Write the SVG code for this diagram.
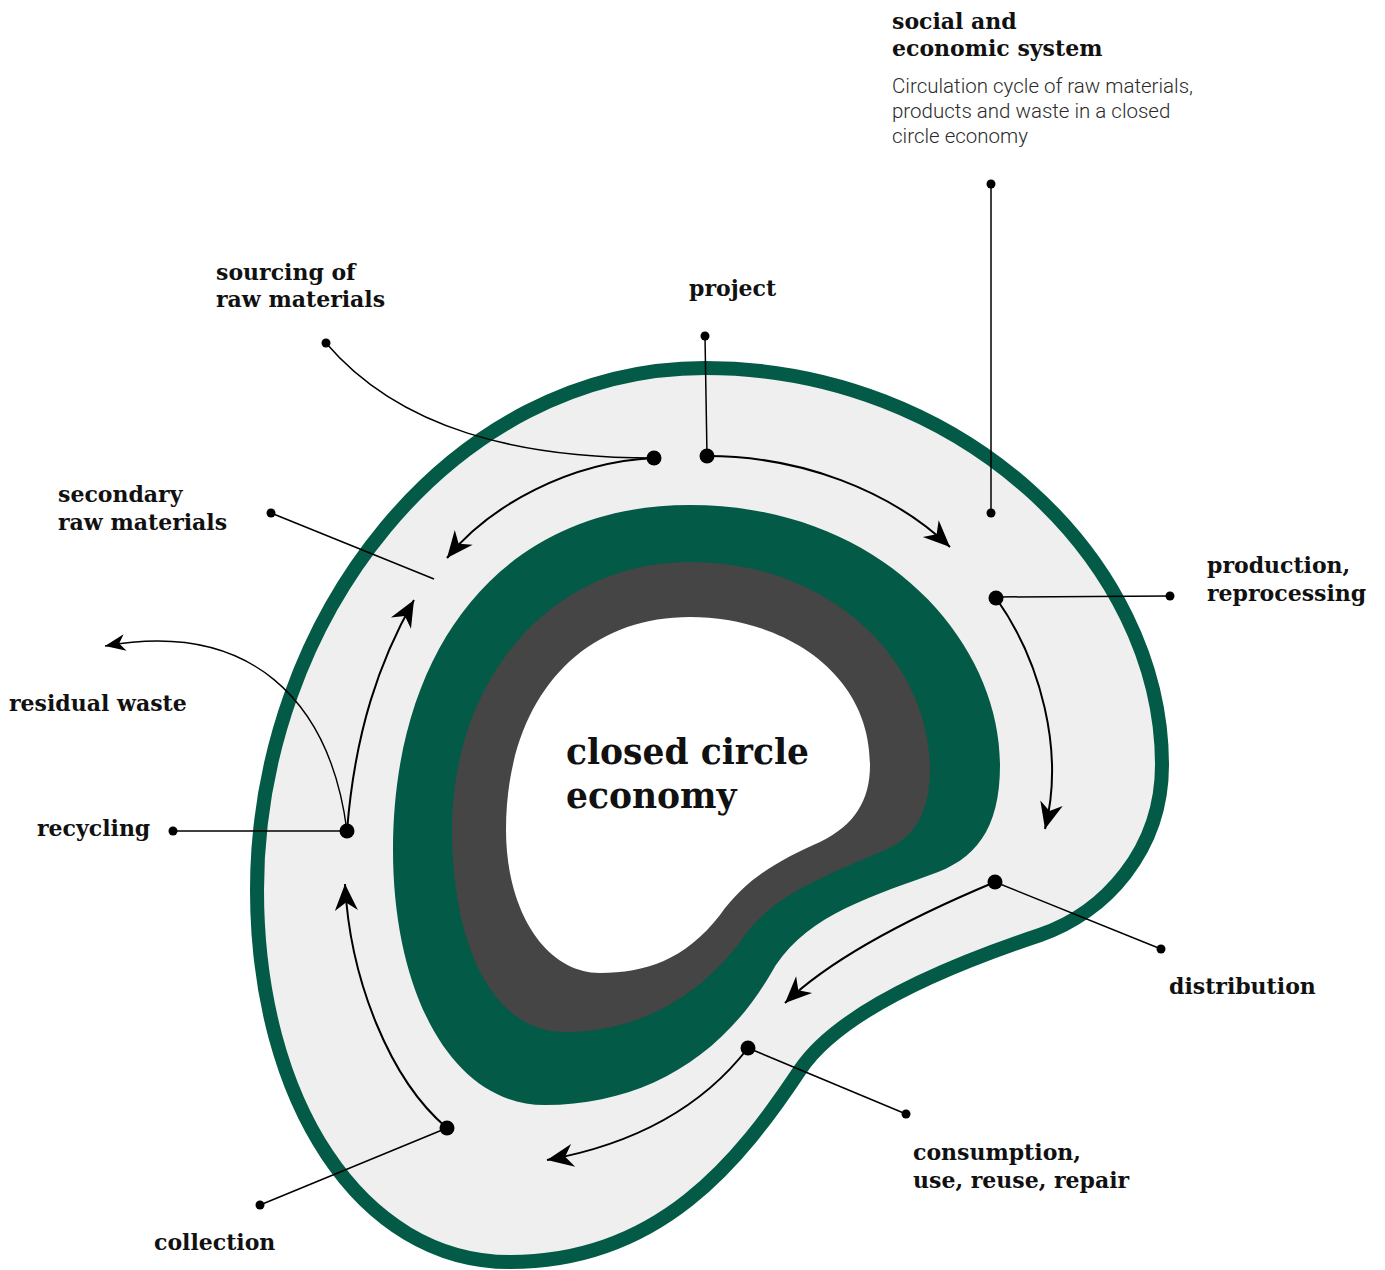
<svg xmlns="http://www.w3.org/2000/svg" width="1385" height="1270" viewBox="0 0 1385 1270">
  <style>
    .lbl { font-family: "DejaVu Serif", "Liberation Serif", serif; font-weight: bold; font-size: 22px; fill: #111; }
    .title { font-family: "DejaVu Serif", "Liberation Serif", serif; font-weight: bold; font-size: 34.5px; fill: #111; }
    .desc { font-family: Roboto, "Liberation Sans", sans-serif; font-weight: 300; font-size: 20.5px; fill: #2b2b2b; }
    .lead { fill: none; stroke: #000; stroke-width: 1.5; }
    .flow { fill: none; stroke: #000; stroke-width: 2; marker-end: url(#head); }
    .flow-thin { fill: none; stroke: #000; stroke-width: 1.4; marker-end: url(#headSmall); }
    .big { fill: #000; }
    .small { fill: #000; }
  </style>
  <defs>
    <marker id="head" markerUnits="userSpaceOnUse" markerWidth="30" markerHeight="30" viewBox="-24 -12 26 24" refX="0" refY="0" orient="auto">
      <path d="M0,0 L-23,-10 L-16,0 L-23,10 Z" fill="#000"/>
    </marker>
    <marker id="headSmall" markerUnits="userSpaceOnUse" markerWidth="24" markerHeight="24" viewBox="-18 -9 20 18" refX="0" refY="0" orient="auto">
      <path d="M0,0 L-17,-7 L-12,0 L-17,7 Z" fill="#000"/>
    </marker>
  </defs>

  <!-- nested rings of the economy -->
  <g id="ring-system">
    <path d="M705,368 C960,368 1162,560 1162,765 C1162,850 1105,913 1040,935 C950,965 840,1010 800,1070 C740,1160 660,1262 510,1262 C360,1262 257,1100 257,890 C257,620 450,368 705,368 Z" fill="#efefef" stroke="#025a47" stroke-width="14"/>
  </g>
  <g id="ring-green">
    <path d="M690,505 C880,505 1000,640 1000,765 C1000,830 975,860 930,875 C860,900 800,920 770,975 C720,1060 640,1105 545,1105 C450,1105 393,990 393,850 C393,650 500,505 690,505 Z" fill="#025a47"/>
  </g>
  <g id="ring-grey">
    <path d="M690,562 C830,562 930,660 930,770 C930,810 915,838 885,850 C820,878 775,895 745,935 C710,985 650,1032 565,1032 C490,1032 452,940 452,830 C452,680 550,562 690,562 Z" fill="#464545"/>
  </g>
  <g id="core">
    <path d="M690,617 C780,617 870,670 870,765 C870,800 855,825 820,842 C775,862 745,880 720,915 C685,960 645,973 600,973 C545,973 506,910 506,830 C506,700 580,617 690,617 Z" fill="#fff"/>
    <text class="title" x="566" y="764">closed circle</text>
    <text class="title" x="566" y="808">economy</text>
  </g>

  <!-- connectors: leader lines and flow arrows -->
  <g id="connectors">
    <path class="lead" d="M326,343 C400,430 520,458 654,458"/>
    <path class="lead" d="M705,336 L707,456"/>
    <path class="lead" d="M991,184 L991,513"/>
    <path class="lead" d="M996,597 L1170,596"/>
    <path class="lead" d="M995,882 L1161,949"/>
    <path class="lead" d="M748,1048 L906,1114"/>
    <path class="lead" d="M447,1128 L260,1205"/>
    <path class="lead" d="M347,831 L173,831"/>
    <path class="lead" d="M271,513 L434,579"/>

    <path class="flow" d="M707,456 C800,456 890,490 950,547"/>
    <path class="flow" d="M654,458 C570,462 490,505 447,558"/>
    <path class="flow" d="M996,598 C1040,660 1065,750 1045,829"/>
    <path class="flow" d="M995,882 C940,905 840,950 785,1003"/>
    <path class="flow" d="M748,1048 C700,1110 630,1145 547,1160"/>
    <path class="flow" d="M447,1128 C390,1080 350,980 345,884"/>
    <path class="flow" d="M347,831 C355,730 380,660 414,600"/>
    <path class="flow-thin" d="M347,831 C330,700 250,620 105,646"/>
  </g>

  <g id="node-social">
    <circle class="small" cx="991" cy="184" r="4.5"/>
    <circle class="small" cx="991" cy="513" r="4.5"/>
    <text class="lbl" x="892" y="29">social and</text>
    <text class="lbl" x="892" y="56">economic system</text>
    <text class="desc" x="892" y="93">Circulation cycle of raw materials,</text>
    <text class="desc" x="892" y="118">products and waste in a closed</text>
    <text class="desc" x="892" y="143">circle economy</text>
  </g>
  <g id="node-project">
    <circle class="small" cx="705" cy="336" r="4.5"/>
    <circle class="big" cx="707" cy="456" r="7.5"/>
    <text class="lbl" x="689" y="296">project</text>
  </g>
  <g id="node-sourcing">
    <circle class="small" cx="326" cy="343" r="4.5"/>
    <circle class="big" cx="654" cy="458" r="7.5"/>
    <text class="lbl" x="216" y="280">sourcing of</text>
    <text class="lbl" x="216" y="307">raw materials</text>
  </g>
  <g id="node-secondary">
    <circle class="small" cx="271" cy="513" r="4.5"/>
    <text class="lbl" x="58" y="502">secondary</text>
    <text class="lbl" x="58" y="530">raw materials</text>
  </g>
  <g id="node-residual">
    <text class="lbl" x="9" y="711">residual waste</text>
  </g>
  <g id="node-recycling">
    <circle class="small" cx="173" cy="831" r="4.5"/>
    <circle class="big" cx="347" cy="831" r="7.5"/>
    <text class="lbl" x="37" y="836">recycling</text>
  </g>
  <g id="node-production">
    <circle class="small" cx="1170" cy="596" r="4.5"/>
    <circle class="big" cx="996" cy="598" r="7.5"/>
    <text class="lbl" x="1207" y="573">production,</text>
    <text class="lbl" x="1207" y="601">reprocessing</text>
  </g>
  <g id="node-distribution">
    <circle class="small" cx="1161" cy="949" r="4.5"/>
    <circle class="big" cx="995" cy="882" r="7.5"/>
    <text class="lbl" x="1169" y="994">distribution</text>
  </g>
  <g id="node-consumption">
    <circle class="small" cx="906" cy="1114" r="4.5"/>
    <circle class="big" cx="748" cy="1048" r="7.5"/>
    <text class="lbl" x="913" y="1160">consumption,</text>
    <text class="lbl" x="913" y="1188">use, reuse, repair</text>
  </g>
  <g id="node-collection">
    <circle class="small" cx="260" cy="1205" r="4.5"/>
    <circle class="big" cx="447" cy="1128" r="7.5"/>
    <text class="lbl" x="154" y="1250">collection</text>
  </g>
</svg>
